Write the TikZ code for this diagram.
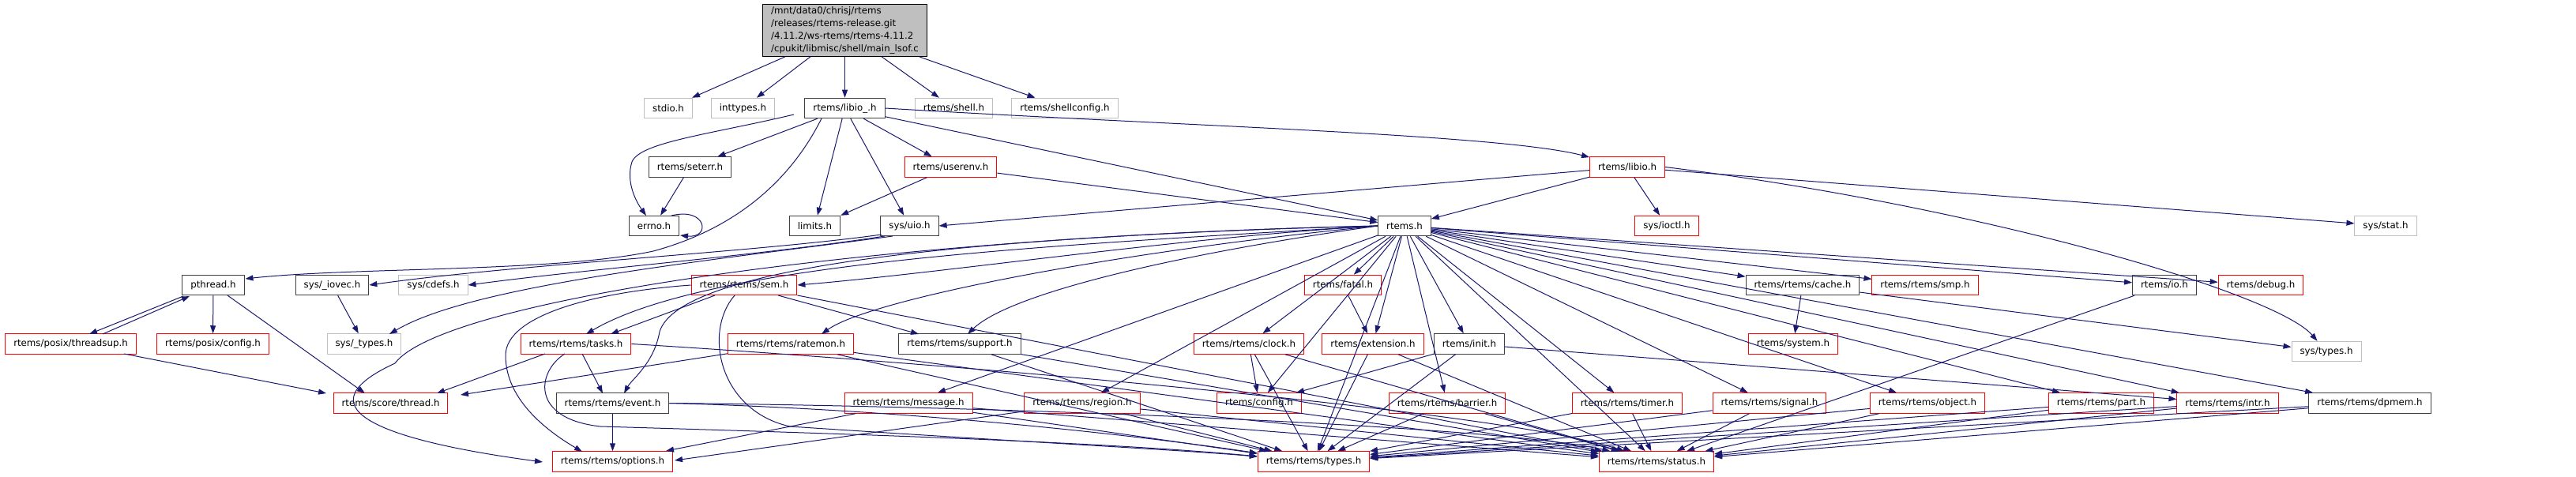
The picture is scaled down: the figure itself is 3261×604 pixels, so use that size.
\documentclass[tikz,border=0pt]{standalone}
\usepackage{fontspec}
\setmainfont{DejaVu Sans}
\usetikzlibrary{arrows.meta}
\definecolor{edgec}{HTML}{191970}
\definecolor{rootfill}{HTML}{BFBFBF}
\definecolor{grayb}{HTML}{BFBFBF}
\definecolor{redb}{HTML}{FF0000}
\definecolor{darkb}{HTML}{404040}
\begin{document}
\begin{tikzpicture}[x=1pt,y=-1pt,
  every node/.style={font=\fontsize{11.8}{16}\selectfont, inner xsep=10.5pt, inner ysep=0pt, minimum height=25.5pt, line width=1pt},
  bn/.style={draw=darkb, fill=white},
  gn/.style={draw=grayb, fill=white},
  rn/.style={draw=redb, fill=white},
  e/.style={draw=edgec, line width=1pt, -{Triangle[length=10pt,width=7pt]}}]
\useasboundingbox (0,0) rectangle (3261,604);
% rank 1
\node[draw=black, fill=rootfill, align=left, inner ysep=3pt] (root) at (1069.5,38.5) {/mnt/data0/chrisj/rtems\\/releases/rtems-release.git\\/4.11.2/ws-rtems/rtems-4.11.2\\/cpukit/libmisc/shell/main\_lsof.c};
% rank 2
\node[gn] (stdio) at (846,137) {stdio.h};
\node[gn] (inttypes) at (940.5,137) {inttypes.h};
\node[bn] (libiou) at (1069.5,137) {rtems/libio\_.h};
\node[gn] (shell) at (1207.5,137) {rtems/shell.h};
\node[gn] (shellcfg) at (1348,137) {rtems/shellconfig.h};
% rank 3
\node[bn] (seterr) at (873.5,211.5) {rtems/seterr.h};
\node[rn] (userenv) at (1203.5,211.5) {rtems/userenv.h};
\node[rn] (libio) at (2060,211.5) {rtems/libio.h};
% rank 4
\node[bn] (errno) at (828,286) {errno.h};
\node[bn] (limits) at (1031.5,286) {limits.h};
\node[bn] (sysuio) at (1151.5,286) {sys/uio.h};
\node[bn] (rtemsh) at (1778,286) {rtems.h};
\node[rn] (sysioctl) at (2110,286) {sys/ioctl.h};
\node[gn] (sysstat) at (3020,286) {sys/stat.h};
% rank 5
\node[bn] (pthread) at (270,361) {pthread.h};
\node[bn] (iovec) at (420.5,361) {sys/\_iovec.h};
\node[gn] (cdefs) at (548.5,361) {sys/cdefs.h};
\node[rn] (sem) at (942,361) {rtems/rtems/sem.h};
\node[rn] (fatal) at (1700,361) {rtems/fatal.h};
\node[bn] (cache) at (2282,361) {rtems/rtems/cache.h};
\node[rn] (smp) at (2437,361) {rtems/rtems/smp.h};
\node[bn] (io) at (2740,361) {rtems/io.h};
\node[rn] (debug) at (2862,361) {rtems/debug.h};
% rank 6
\node[rn] (threadsup) at (89.5,435.5) {rtems/posix/threadsup.h};
\node[rn] (pconfig) at (269.5,435.5) {rtems/posix/config.h};
\node[gn] (stypes) at (461,435.5) {sys/\_types.h};
\node[rn] (tasks) at (729,435.5) {rtems/rtems/tasks.h};
\node[rn] (ratemon) at (1001,435.5) {rtems/rtems/ratemon.h};
\node[bn] (support) at (1215,435.5) {rtems/rtems/support.h};
\node[rn] (clock) at (1581,435.5) {rtems/rtems/clock.h};
\node[rn] (extension) at (1738,435.5) {rtems/extension.h};
\node[bn] (init) at (1860,435.5) {rtems/init.h};
\node[rn] (system) at (2270,435.5) {rtems/system.h};
\node[gn] (systypes) at (2945,445) {sys/types.h};
% rank 7
\node[rn] (sthread) at (494.5,510.5) {rtems/score/thread.h};
\node[bn] (event) at (775.5,510.5) {rtems/rtems/event.h};
\node[rn] (message) at (1150,510.5) {rtems/rtems/message.h};
\node[rn] (region) at (1370,510.5) {rtems/rtems/region.h};
\node[rn] (config) at (1594,510.5) {rtems/config.h};
\node[rn] (barrier) at (1832,510.5) {rtems/rtems/barrier.h};
\node[rn] (timer) at (2060,510.5) {rtems/rtems/timer.h};
\node[rn] (signal) at (2240,510.5) {rtems/rtems/signal.h};
\node[rn] (object) at (2440,510.5) {rtems/rtems/object.h};
\node[rn] (part) at (2660,510.5) {rtems/rtems/part.h};
\node[rn] (intr) at (2820,510.5) {rtems/rtems/intr.h};
\node[bn] (dpmem) at (3000,510.5) {rtems/rtems/dpmem.h};
% rank 8
\node[rn] (options) at (775.5,584.5) {rtems/rtems/options.h};
\node[rn] (types) at (1663,584.5) {rtems/rtems/types.h};
\node[rn] (status) at (2097,584.5) {rtems/rtems/status.h};
% ---- edges
\foreach \t in {stdio,inttypes,libiou,shell,shellcfg} \draw[e] (root) -- (\t);
\foreach \t in {seterr,userenv,limits,sysuio,rtemsh} \draw[e] (libiou) -- (\t);
\draw[e] (libiou.east) .. controls (1500,160) and (1900,170) .. (libio);
\draw[e] (1005,145) .. controls (900,170) and (810,180) .. (800,205) .. controls (792,230) and (805,255) .. (818,273);
\draw[e] (1040,150) .. controls (1000,230) and (930,290) .. (827,318) .. controls (700,345) and (450,338) .. (310.5,353);
\draw[e] (seterr) -- (errno);
\draw[e] (850,273) .. controls (895,262) and (900,302) .. (861,298);
\draw[e] (userenv) -- (limits.north east);
\draw[e] (userenv) -- (rtemsh);
\draw[e] (libio) -- (sysuio.east);
\foreach \t in {rtemsh,sysioctl,sysstat} \draw[e] (libio) -- (\t);
\draw[e] (libio.east) .. controls (2500,260) and (2880,370) .. (systypes);
\draw[e] (1116,297) .. controls (950,320) and (650,335) .. (iovec.east);
\draw[e] (1120,299) .. controls (950,325) and (750,340) .. (cdefs.east);
\draw[e] (1130,299) .. controls (900,330) and (600,360) .. (493,423);
\draw[e] (iovec) -- (stypes);
\draw[e] (232,375) -- (113,423);
\draw[e] (130,423) -- (240,375);
\draw[e] (pthread) -- (pconfig);
\draw[e] (288,374) -- (462,498);
\draw[e] (157,448) -- (413,498);
% rtems.h fan-out
\draw[e] (rtemsh.west) .. controls (1500,300) and (1200,345) .. (sem.east);
\draw[e] (rtemsh.west) .. controls (1350,310) and (900,330) .. (742,423);
\draw[e] (rtemsh.west) .. controls (1400,320) and (1100,380) .. (1040,423);
\draw[e] (rtemsh.west) .. controls (1500,320) and (1280,370) .. (1225,423);
\draw[e] (rtemsh.west) .. controls (1200,300) and (860,340) .. (835,420) .. controls (828,460) and (800,480) .. (790,498);
\draw[e] (rtemsh.west) .. controls (1100,300) and (560,380) .. (500,460) .. controls (370,520) and (500,560) .. (687,585);
\foreach \t in {fatal,cache,smp,io,debug,extension,init,clock,config,message,region,barrier,timer,signal,object,part,intr,dpmem,types,status} \draw[e] (rtemsh) -- (\t);
\draw[e] (cache) -- (system);
\draw[e] (cache) -- (systypes);
\draw[e] (fatal) -- (extension);
% sem.h
\draw[e] (905,374) -- (773,423);
\draw[e] (985,374) -- (1163,423);
\draw[e] (sem.west) .. controls (750,370) and (640,400) .. (640,450) .. controls (640,510) and (700,550) .. (737,572);
\draw[e] (930,374) .. controls (890,420) and (910,520) .. (1000,540) .. controls (1300,560) and (1500,570) .. (types);
\draw[e] (sem) -- (status);
% tasks.h
\draw[e] (690,448) -- (553,498);
\draw[e] (737,448) -- (763,498);
\draw[e] (715,448) .. controls (680,470) and (670,530) .. (760,540) .. controls (1100,550) and (1400,560) .. (types);
\draw[e] (tasks.east) .. controls (1200,460) and (1900,520) .. (status);
% event.h
\draw[e] (event) -- (options);
\draw[e] (event.east) .. controls (1200,520) and (1500,560) .. (types);
\draw[e] (event.east) .. controls (1300,515) and (1900,540) .. (status);
% ratemon
\draw[e] (ratemon) -- (583,500);
\foreach \t in {types,status} \draw[e] (ratemon) -- (\t);
% support
\foreach \t in {types,status} \draw[e] (support) -- (\t);
% message, region
\draw[e] (message) -- (843,571);
\draw[e] (region) -- (854,583);
\foreach \t in {types,status} \draw[e] (message) -- (\t);
\foreach \t in {types,status} \draw[e] (region) -- (\t);
% others
\foreach \t in {config,types,status} \draw[e] (clock) -- (\t);
\foreach \t in {types,status} \draw[e] (extension) -- (\t);
\foreach \t in {config,types,intr} \draw[e] (init) -- (\t);
\draw[e] (io) -- (status);
\foreach \s in {barrier,timer,signal,object,part,intr,dpmem} {\draw[e] (\s) -- (types); \draw[e] (\s) -- (status);}
\end{tikzpicture}
\end{document}
